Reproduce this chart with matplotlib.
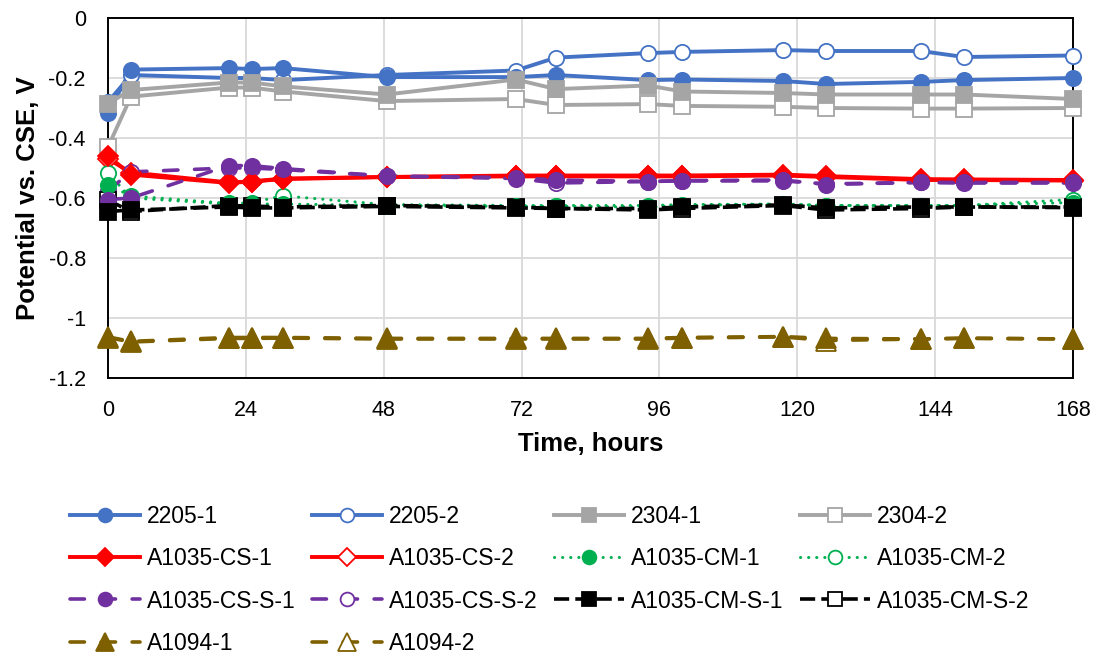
import matplotlib
matplotlib.use("Agg")
import matplotlib.pyplot as plt
from matplotlib.lines import Line2D
from matplotlib.ticker import FixedLocator, FuncFormatter

plt.rcParams['font.family'] = ['Liberation Sans', 'DejaVu Sans']
plt.rcParams['axes.unicode_minus'] = False

# ---------------- data ----------------
time_h = [0, 4, 21, 25, 30.5, 48.5, 71, 78, 94, 100, 117.5, 125, 141.5, 149, 168]

s2205_1 = [-0.317, -0.172, -0.167, -0.170, -0.167, -0.197, -0.197, -0.190, -0.207, -0.205, -0.210, -0.220, -0.213, -0.207, -0.200]
s2205_2 = [-0.280, -0.190, -0.200, -0.200, -0.207, -0.190, -0.175, -0.132, -0.117, -0.113, -0.107, -0.110, -0.110, -0.130, -0.125]
s2304_1 = [-0.285, -0.240, -0.215, -0.215, -0.228, -0.255, -0.205, -0.237, -0.225, -0.245, -0.250, -0.255, -0.255, -0.255, -0.270]
s2304_2 = [-0.430, -0.262, -0.232, -0.232, -0.245, -0.277, -0.270, -0.290, -0.287, -0.293, -0.296, -0.300, -0.302, -0.302, -0.300]
cs_1 = [-0.460, -0.522, -0.550, -0.545, -0.537, -0.530, -0.525, -0.525, -0.525, -0.525, -0.522, -0.527, -0.537, -0.538, -0.540]
cs_2 = [-0.470, -0.515, -0.548, -0.545, -0.535, -0.530, -0.528, -0.528, -0.528, -0.528, -0.525, -0.530, -0.540, -0.540, -0.542]
cm_1 = [-0.557, -0.593, -0.618, -0.620, -0.620, -0.625, -0.628, -0.628, -0.630, -0.625, -0.620, -0.625, -0.625, -0.625, -0.615]
cm_2 = [-0.517, -0.600, -0.620, -0.615, -0.593, -0.622, -0.625, -0.625, -0.625, -0.622, -0.620, -0.625, -0.625, -0.625, -0.605]
css_1 = [-0.605, -0.600, -0.492, -0.492, -0.502, -0.527, -0.532, -0.540, -0.545, -0.542, -0.540, -0.555, -0.548, -0.548, -0.548]
css_2 = [-0.575, -0.513, -0.500, -0.500, -0.505, -0.527, -0.535, -0.550, -0.545, -0.543, -0.543, -0.553, -0.548, -0.550, -0.550]
cms_1 = [-0.645, -0.640, -0.630, -0.633, -0.633, -0.628, -0.633, -0.635, -0.635, -0.630, -0.623, -0.633, -0.630, -0.630, -0.632]
cms_2 = [-0.607, -0.645, -0.625, -0.627, -0.630, -0.625, -0.630, -0.635, -0.640, -0.635, -0.625, -0.640, -0.635, -0.630, -0.630]
a1094_1 = [-1.063, -1.078, -1.065, -1.065, -1.065, -1.068, -1.068, -1.068, -1.068, -1.065, -1.062, -1.068, -1.070, -1.067, -1.070]
a1094_2 = [-1.065, -1.080, -1.068, -1.068, -1.067, -1.070, -1.070, -1.070, -1.070, -1.067, -1.063, -1.075, -1.070, -1.068, -1.070]

labels = ["2205-1", "2205-2", "2304-1", "2304-2",
          "A1035-CS-1", "A1035-CS-2", "A1035-CM-1", "A1035-CM-2",
          "A1035-CS-S-1", "A1035-CS-S-2", "A1035-CM-S-1", "A1035-CM-S-2",
          "A1094-1", "A1094-2"]
series = [s2205_1, s2205_2, s2304_1, s2304_2, cs_1, cs_2, cm_1, cm_2,
          css_1, css_2, cms_1, cms_2, a1094_1, a1094_2]

x_ticks = [0, 24, 48, 72, 96, 120, 144, 168]
y_ticks = [0, -0.2, -0.4, -0.6, -0.8, -1.0, -1.2]

# ---------------- styles ----------------
BLUE = "#4472C4"; GRAY = "#A5A5A5"; RED = "#FF0000"; GREEN = "#00B050"
PURPLE = "#7030A0"; BLACK = "#000000"; OLIVE = "#7F6000"

solid = "-"
dotted = (0, (0.05, 2.6))
dashed = (0, (4.0, 4.6))
blackdash = (0, (4.2, 1.7))

styles = [
    dict(color=BLUE, ls=solid, marker="o", ms=11, filled=True),
    dict(color=BLUE, ls=solid, marker="o", ms=11, filled=False),
    dict(color=GRAY, ls=solid, marker="s", ms=11, filled=True),
    dict(color=GRAY, ls=solid, marker="s", ms=11, filled=False),
    dict(color=RED, ls=solid, marker="D", ms=10, filled=True),
    dict(color=RED, ls=solid, marker="D", ms=10, filled=False),
    dict(color=GREEN, ls=dotted, marker="o", ms=11, filled=True),
    dict(color=GREEN, ls=dotted, marker="o", ms=11, filled=False),
    dict(color=PURPLE, ls=dashed, marker="o", ms=11, filled=True),
    dict(color=PURPLE, ls=dashed, marker="o", ms=11, filled=False),
    dict(color=BLACK, ls=blackdash, marker="s", ms=11.5, filled=True),
    dict(color=BLACK, ls=blackdash, marker="s", ms=11.5, filled=False),
    dict(color=OLIVE, ls=dashed, marker="^", ms=14, filled=True),
    dict(color=OLIVE, ls=dashed, marker="^", ms=14, filled=False),
]

fig = plt.figure(figsize=(10.99, 6.58), dpi=100)
ax = fig.add_axes([108/1099, 1-378/658, (1073-108)/1099, (378-18)/658])

handles = []
for i, (lab, vals, st) in enumerate(zip(labels, series, styles)):
    if st["ls"] is solid:
        lw = 2.8
    elif st["ls"] is dotted:
        lw = 2.2
    else:
        lw = 2.6
    cap = "round" if st["ls"] in (dotted, dashed) else "butt"
    face = st["color"] if st["filled"] else "white"
    # line
    ax.plot(time_h, vals, color=st["color"], linestyle=st["ls"], lw=lw,
            dash_capstyle=cap, solid_joinstyle="round",
            clip_on=False, zorder=3 + i * 0.01)
    # markers (filled markers above hollow ones)
    ax.plot(time_h, vals, linestyle="none", marker=st["marker"], ms=st["ms"],
            markerfacecolor=face, markeredgecolor=st["color"], markeredgewidth=1.3,
            clip_on=False, zorder=(4.5 if st["filled"] else 4.0) + i * 0.01)
    handles.append(Line2D([], [], color=st["color"], linestyle=st["ls"], lw=lw,
                          dash_capstyle=cap, marker=st["marker"], ms=st["ms"],
                          markerfacecolor=face, markeredgecolor=st["color"],
                          markeredgewidth=1.3))

ax.set_xlim(0, 168)
ax.set_ylim(-1.2, 0)
ax.xaxis.set_major_locator(FixedLocator(x_ticks))
ax.yaxis.set_major_locator(FixedLocator(y_ticks))
ax.yaxis.set_major_formatter(FuncFormatter(lambda v, p: "0" if abs(v) < 1e-9 else f"{v:g}"))
ax.tick_params(length=0, labelsize=15.5, colors="black")
ax.tick_params(axis="y", pad=16)
ax.tick_params(axis="x", pad=16)
ax.grid(True, color="#D9D9D9", lw=1.3)
ax.set_axisbelow(True)
for sp in ax.spines.values():
    sp.set_color("black")
    sp.set_linewidth(1.4)
    sp.set_zorder(2.5)

ax.set_xlabel("Time, hours", fontsize=18.5, fontweight="bold", labelpad=8)
ax.set_ylabel("Potential vs. CSE, V", fontsize=18.5, fontweight="bold", labelpad=6)

# legend: reorder so rows read left-to-right as in the original
order = [0, 4, 8, 12, 1, 5, 9, 13, 2, 6, 10, 3, 7, 11]
fig.legend([handles[k] for k in order], [labels[k] for k in order],
           loc="upper left", bbox_to_anchor=(70/1099, 1-505/658),
           ncol=4, frameon=False, fontsize=16.5, borderpad=0, borderaxespad=0,
           handlelength=3.05, handletextpad=0.3, columnspacing=0.72,
           labelspacing=0.84, markerscale=0.9)

fig.savefig("out.png", dpi=100)
